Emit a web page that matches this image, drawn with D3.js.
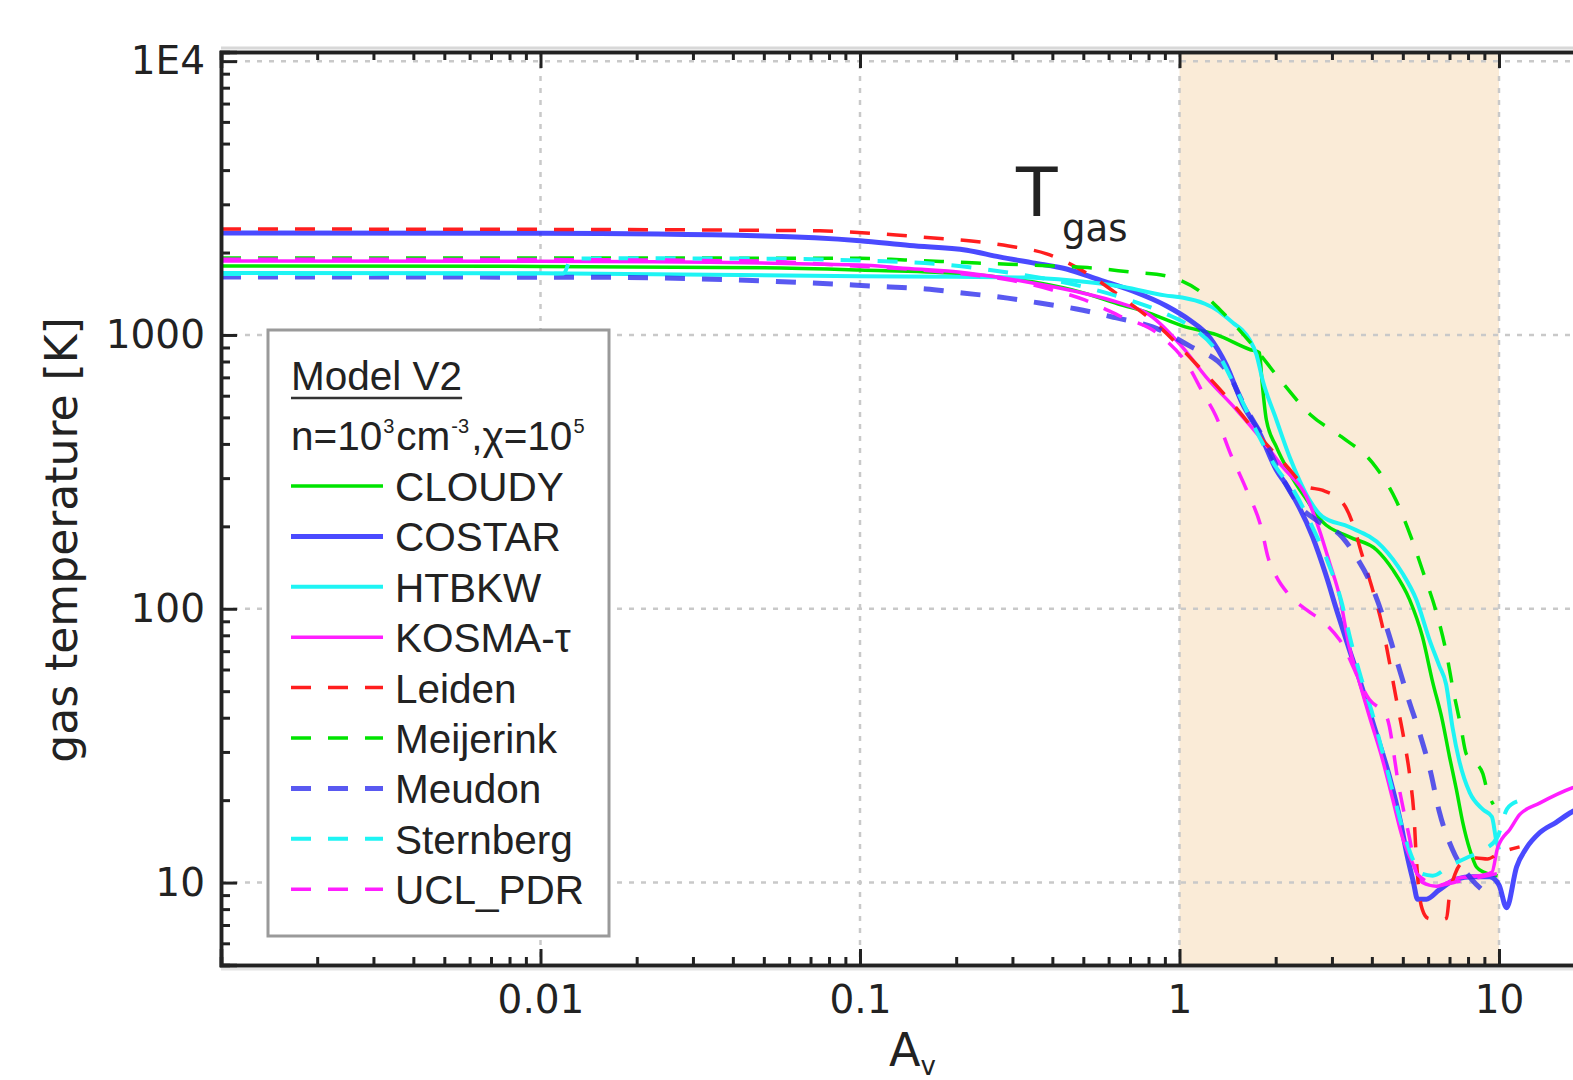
<!DOCTYPE html>
<html><head><meta charset="utf-8">
<script src="https://cdn.jsdelivr.net/npm/d3@7"></script>
<style>
html,body{margin:0;padding:0;background:#fff;overflow:hidden}
svg{display:block;font-family:"DejaVu Sans",sans-serif}
</style></head><body>
<svg id="c" width="1573" height="1080"></svg>
<script>
// ---------------- data (A_V, T_gas [K]) ----------------
const seriesNames = ["CLOUDY","COSTAR","HTBKW","KOSMA-τ","Leiden","Meijerink","Meudon","Sternberg","UCL_PDR"];

const CLOUDY = [[0.001,1786],[0.01,1780],[0.05,1760],[0.1,1727],[0.2,1680],[0.35,1560],[0.5,1425],[0.64,1300],[0.8,1205],[1.02,1080],[1.31,1000],[1.66,885],[1.78,862],[1.81,690],[1.87,490],[2.01,390],[2.21,313],[2.5,250],[2.8,208],[3.4,183],[4.14,164],[4.65,139],[5.25,108],[5.76,79],[6.2,54],[6.64,39.4],[7.0,28.8],[7.36,21.8],[7.7,16.6],[8.1,13.2],[8.5,11.4],[9.0,10.9],[9.9,10.6]];

const COSTAR = [[0.001,2357],[0.01,2350],[0.05,2300],[0.1,2210],[0.143,2120],[0.216,2040],[0.273,1928],[0.347,1833],[0.443,1742],[0.562,1588],[0.713,1447],[0.911,1276],[1.075,1134],[1.24,983],[1.40,778],[1.575,560],[1.78,439],[2.01,321],[2.18,279],[2.61,183],[2.86,135],[3.12,97],[3.40,71],[3.68,54],[4.07,37],[4.54,24.4],[4.92,16.6],[5.17,12.4],[5.40,10],[5.56,8.7],[5.93,8.7],[6.5,9.4],[7.36,10.3],[8.27,10.5],[9.34,10.5],[10.0,9.8],[10.56,8.1],[11.35,11.4],[12.2,13.4],[13.4,15.2],[15.1,16.6],[16.9,18.1],[20,19.5]];

const HTBKW = [[0.001,1684],[0.01,1680],[0.1,1640],[0.2,1630],[0.33,1620],[0.46,1580],[0.67,1497],[0.9,1395],[1.02,1370],[1.2,1300],[1.31,1234],[1.48,1100],[1.57,1043],[1.66,959],[1.74,850],[1.82,685],[2.01,490],[2.21,359],[2.37,296],[2.55,250],[2.8,217],[3.4,199],[4.32,168],[4.98,135],[5.51,108],[6.06,77],[6.5,62],[6.83,53],[7.15,37],[7.5,28],[8.1,21.3],[8.9,18.5],[9.5,17.4],[9.8,14.3],[10.0,13.2]];

const KOSMA = [[0.001,1862],[0.01,1860],[0.1,1800],[0.133,1757],[0.216,1684],[0.347,1548],[0.497,1423],[0.635,1320],[0.806,1183],[1.02,904],[1.21,703],[1.51,532],[1.78,425],[2.1,330],[2.5,256],[2.74,194],[2.95,147],[3.17,111],[3.4,72.6],[3.66,53.7],[3.93,40.4],[4.32,28.1],[4.65,20.1],[4.98,14.7],[5.36,11.8],[5.76,10],[6.36,9.7],[7.5,10.4],[8.7,10.6],[9.5,10.9],[9.9,13.4],[10.2,14.4],[10.8,15.6],[11.6,17.7],[13.4,19.5],[17.0,22.2],[20,23.5]];

const LEIDEN = [[0.001,2437],[0.01,2430],[0.05,2410],[0.075,2400],[0.13,2318],[0.17,2260],[0.223,2203],[0.292,2113],[0.384,1977],[0.505,1698],[0.663,1365],[0.866,1070],[1.12,790],[1.45,570],[1.82,414],[2.15,335],[2.5,279],[2.8,271],[3.24,244],[3.48,206],[3.7,162],[4.0,120],[4.3,88],[4.55,63],[4.8,45],[5.05,33],[5.27,24],[5.42,17.5],[5.5,12.8],[5.6,9.6],[5.75,8.0],[6.0,7.4],[6.5,7.3],[6.85,7.4],[7.0,9.0],[7.3,10.8],[7.8,12.0],[8.5,12.3],[9.2,12.2],[10.0,12.8],[11.6,13.5]];

const MEIJERINK = [[0.001,1910],[0.01,1910],[0.1,1905],[0.138,1879],[0.233,1831],[0.406,1786],[0.534,1756],[0.70,1698],[0.91,1642],[1.155,1447],[1.35,1224],[1.69,920],[2.08,679],[2.57,511],[3.21,425],[4.02,341],[4.77,248],[5.32,181],[5.84,132],[6.36,97.5],[6.83,69.7],[7.2,50],[7.6,37],[7.9,29.5],[8.4,27.5],[8.9,25],[9.2,21.5],[9.6,19.3]];

const MEUDON = [[0.001,1628],[0.015,1625],[0.07,1548],[0.095,1522],[0.124,1497],[0.161,1472],[0.209,1423],[0.273,1376],[0.365,1308],[0.476,1244],[0.635,1154],[0.823,1070],[1.075,912],[1.40,745],[1.6,549],[1.85,410],[2.1,300],[2.45,228],[2.68,211],[3.24,182],[3.57,155],[3.95,125],[4.4,89],[4.8,64],[5.2,47],[5.67,34.5],[6.1,25.5],[6.5,18.2],[7.15,13.2],[8.2,10.3],[9.3,9.0]];

const STERNBERG = [[0.001,1670],[0.0118,1675],[0.0125,1900],[0.02,1905],[0.05,1900],[0.1,1870],[0.18,1810],[0.3,1680],[0.5,1500],[0.7,1340],[0.9,1200],[1.1,1060],[1.3,880],[1.5,640],[1.75,440],[2.0,330],[2.3,265],[2.6,200],[2.9,150],[3.2,108],[3.45,75],[3.7,56],[4.0,42],[4.35,29],[4.7,20.5],[5.05,15],[5.4,12],[5.7,10.8],[6.2,10.6],[7.0,11.5],[7.9,12.3],[9.0,13.2],[9.9,14.7],[10.6,18.6],[11.4,19.8]];

const UCL_PDR = [[0.001,1890],[0.01,1885],[0.05,1860],[0.086,1800],[0.2,1680],[0.3,1580],[0.4,1460],[0.505,1342],[0.65,1173],[0.866,1000],[1.075,758],[1.18,619],[1.30,506],[1.44,371],[1.62,272],[1.81,194],[1.89,155],[2.01,131],[2.18,114],[2.5,99],[2.84,89],[3.17,77],[3.93,46.6],[4.45,40.3],[4.88,21.8],[5.25,14.5],[5.56,10.7],[6.5,9.8],[7.5,10.1],[8.5,10.4],[9.9,10.8]];

const seriesData = [CLOUDY, COSTAR, HTBKW, KOSMA, LEIDEN, MEIJERINK, MEUDON, STERNBERG, UCL_PDR];

const xMajorTicks = [0.001, 0.01, 0.1, 1, 10, 100];
const xTickLabels = ["", "0.01", "0.1", "1", "10", ""];
const yMajorTicks = [10, 100, 1000, 10000];
const yTickLabels = ["10", "100", "1000", "1E4"];
const shadeRange = [1, 10];

// ---------------- styles ----------------
const styles = {
  "CLOUDY":   {color:"#00e400", w:3.5, dash:null, op:1},
  "COSTAR":   {color:"#2a2aff", w:5,   dash:null, op:0.85},
  "HTBKW":    {color:"#1ef4f4", w:4,   dash:null, op:1},
  "KOSMA-τ":  {color:"#ff1eff", w:3.5, dash:null, op:1},
  "Leiden":   {color:"#ff1e1e", w:3.5, dash:"20,17", op:1},
  "Meijerink":{color:"#00e400", w:3.5, dash:"20,17", op:1},
  "Meudon":   {color:"#3030ee", w:5,   dash:"20,17", op:0.8},
  "Sternberg":{color:"#1ef4f4", w:4,   dash:"20,17", op:1},
  "UCL_PDR":  {color:"#ff1eff", w:3.5, dash:"20,17", op:1}
};
const legendFont = "'Liberation Sans', Arial, sans-serif";

const W = 1573, H = 1080;
const L = 221, T = 52, B = 965;
const svg = d3.select("#c");

const x = d3.scaleLog().domain([0.001, 100]).range([L, L + 5 * 319.5]);
const y = d3.scaleLog().domain([5, 10800]).range([B, T]);

// minors
const xMinor = [];
[0.001, 0.01, 0.1, 1, 10].forEach(d => { for (let k = 2; k <= 9; k++) xMinor.push(d * k); });
const yMinor = [];
[1, 10, 100, 1000].forEach(d => { for (let k = 2; k <= 9; k++) { const v = d * k; if (v >= 5 && v <= 10800) yMinor.push(v); } });

// shaded region
svg.append("rect")
  .attr("x", x(shadeRange[0])).attr("y", T)
  .attr("width", x(shadeRange[1]) - x(shadeRange[0])).attr("height", B - T)
  .attr("fill", "#faebd7");

// grid
const grid = svg.append("g").attr("stroke", "#c9c9c9").attr("stroke-width", 2.5).attr("stroke-dasharray", "5,7");
xMajorTicks.slice(1).forEach(v => {
  grid.append("line").attr("x1", x(v)).attr("x2", x(v)).attr("y1", T).attr("y2", B);
});
yMajorTicks.forEach(v => {
  grid.append("line").attr("x1", L).attr("x2", W).attr("y1", y(v)).attr("y2", y(v));
});

// lines
svg.append("clipPath").attr("id", "clip").append("rect")
  .attr("x", L).attr("y", T).attr("width", W - L).attr("height", B - T);
const line = d3.line().x(d => x(d[0])).y(d => y(d[1])).curve(d3.curveMonotoneX);
const lg = svg.append("g").attr("clip-path", "url(#clip)");
seriesNames.forEach((name, i) => {
  const s = styles[name];
  lg.append("path").datum(seriesData[i])
    .attr("d", line).attr("fill", "none")
    .attr("stroke", s.color).attr("stroke-width", s.w)
    .attr("stroke-opacity", s.op)
    .attr("stroke-dasharray", s.dash)
    .attr("stroke-linejoin", "round");
});

// axes
function styleAxis(g) {
  g.select(".domain").attr("stroke", "#222").attr("stroke-width", 3.5);
  g.selectAll(".tick line").attr("stroke", "#222").attr("stroke-width", 3);
  g.selectAll(".tick text").attr("fill", "#222").attr("font-size", 39)
    .attr("font-family", "DejaVu Sans");
}
svg.append("line").attr("x1", L).attr("x2", W).attr("y1", T - 4).attr("y2", T - 4).attr("stroke", "#d8d8d8").attr("stroke-width", 3);
svg.append("line").attr("x1", L).attr("x2", W).attr("y1", B + 4).attr("y2", B + 4).attr("stroke", "#e4e4e4").attr("stroke-width", 3);

const bottomMinor = svg.append("g").attr("transform", `translate(0,${B})`)
  .call(d3.axisBottom(x).tickValues(xMinor).tickSize(-8).tickFormat(""));
const bottomMajor = svg.append("g").attr("transform", `translate(0,${B})`)
  .call(d3.axisBottom(x).tickValues(xMajorTicks).tickSize(-16).tickPadding(20)
    .tickFormat((d, i) => xTickLabels[i]));
[bottomMinor, bottomMajor].forEach(styleAxis);

const topMinor = svg.append("g").attr("transform", `translate(0,${T})`)
  .call(d3.axisTop(x).tickValues(xMinor).tickSize(-8).tickFormat(""));
const topMajor = svg.append("g").attr("transform", `translate(0,${T})`)
  .call(d3.axisTop(x).tickValues(xMajorTicks).tickSize(-16).tickFormat(""));
[topMinor, topMajor].forEach(styleAxis);

const leftMinor = svg.append("g").attr("transform", `translate(${L},0)`)
  .call(d3.axisLeft(y).tickValues(yMinor).tickSize(-9).tickFormat(""));
const leftMajor = svg.append("g").attr("transform", `translate(${L},0)`)
  .call(d3.axisLeft(y).tickValues(yMajorTicks).tickSize(-16).tickPadding(16)
    .tickFormat((d, i) => yTickLabels[i]));
[leftMinor, leftMajor].forEach(styleAxis);

// legend
const leg = svg.append("g").attr("font-family", legendFont);
leg.append("rect").attr("x", 268).attr("y", 330).attr("width", 341).attr("height", 606)
  .attr("fill", "#fff").attr("stroke", "#9a9a9a").attr("stroke-width", 3);
const t1 = leg.append("text").attr("x", 291).attr("y", 390).attr("font-size", 40.5).attr("fill", "#222").text("Model V2");
const t1w = t1.node().getComputedTextLength();
leg.append("line").attr("x1", 291).attr("x2", 291 + t1w).attr("y1", 398).attr("y2", 398).attr("stroke", "#333").attr("stroke-width", 2.5);
const t2 = leg.append("text").attr("x", 291).attr("y", 450).attr("font-size", 40.5).attr("fill", "#222");
t2.append("tspan").text("n=10");
t2.append("tspan").attr("font-size", 20).attr("dx", 1).attr("dy", -17).text("3");
t2.append("tspan").attr("dx", 2).attr("dy", 17).text("cm");
t2.append("tspan").attr("font-size", 20).attr("dx", 1).attr("dy", -17).text("-3");
t2.append("tspan").attr("dx", 2).attr("dy", 17).text(",χ=10");
t2.append("tspan").attr("font-size", 20).attr("dx", 1).attr("dy", -17).text("5");

seriesNames.forEach((name, i) => {
  const s = styles[name];
  const yy = 486 + i * 50.4;
  leg.append("line").attr("x1", 291).attr("x2", 383).attr("y1", yy).attr("y2", yy)
    .attr("stroke", s.color).attr("stroke-width", s.w).attr("stroke-opacity", s.op)
    .attr("stroke-dasharray", s.dash);
  leg.append("text").attr("x", 395).attr("y", yy + 15).attr("font-size", 40.5).attr("fill", "#222").text(name);
});

// annotation
svg.append("text").attr("x", 1016).attr("y", 216).attr("font-size", 68).attr("fill", "#222").text("T");
svg.append("text").attr("x", 1062).attr("y", 241).attr("font-size", 37).attr("fill", "#222").text("gas");

// axis titles
const xt = svg.append("text").attr("x", 889).attr("y", 1066).attr("font-size", 46).attr("fill", "#222");
xt.append("tspan").text("A");
xt.append("tspan").attr("font-size", 26).attr("dy", 9).text("v");

svg.append("text").attr("transform", "translate(77,540) rotate(-90)")
  .attr("text-anchor", "middle").attr("font-size", 44).attr("fill", "#222")
  .text("gas temperature [K]");
</script>
</body></html>
